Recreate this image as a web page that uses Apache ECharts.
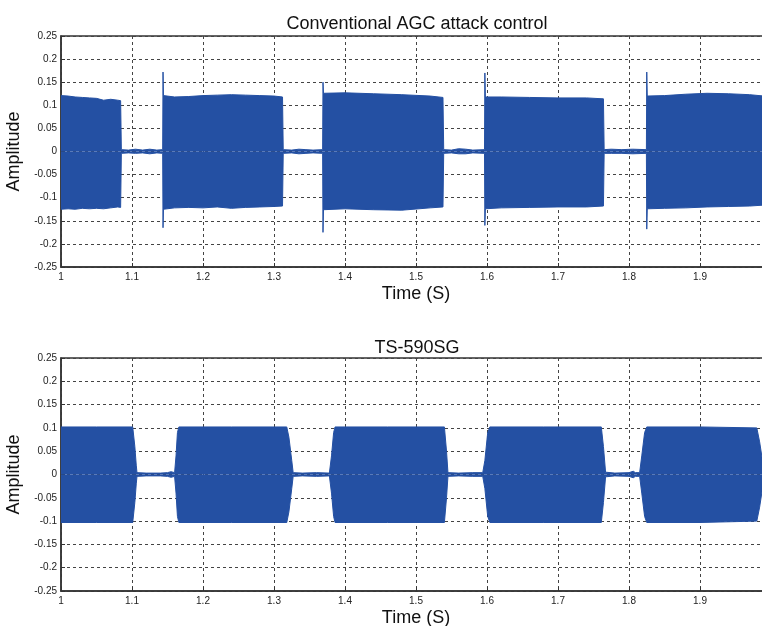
<!DOCTYPE html>
<html>
<head>
<meta charset="utf-8">
<script src="https://cdn.jsdelivr.net/npm/echarts@6/dist/echarts.min.js"></script>
<style>
html,body{margin:0;padding:0;background:#fff;}
#c{width:762px;height:626px;}
</style>
</head>
<body>
<div id="c"></div>
<script>
var titles = ["Conventional AGC attack control", "TS-590SG"];
var xTicks = [1, 1.1, 1.2, 1.3, 1.4, 1.5, 1.6, 1.7, 1.8, 1.9, 2];
var yTicks = [-0.25, -0.2, -0.15, -0.1, -0.05, 0, 0.05, 0.1, 0.15, 0.2, 0.25];

// Top: conventional AGC
var agcTime  = [1.000, 1.010, 1.020, 1.030, 1.040, 1.050, 1.060, 1.070, 1.080, 1.084, 1.085,
                1.095, 1.105, 1.115, 1.125, 1.135, 1.1432, 1.1437, 1.1443,
                1.160, 1.180, 1.200, 1.220, 1.240, 1.260, 1.280, 1.300, 1.312, 1.313,
                1.325, 1.335, 1.345, 1.355, 1.3685, 1.369, 1.3697,
                1.400, 1.440, 1.480, 1.520, 1.538, 1.539,
                1.550, 1.560, 1.570, 1.580, 1.5965, 1.597, 1.5977,
                1.620, 1.660, 1.700, 1.740, 1.764, 1.765,
                1.775, 1.790, 1.805, 1.8245, 1.825, 1.8257,
                1.850, 1.880, 1.910, 1.940, 1.970, 1.990];
var agcUpper = [0.121, 0.120, 0.118, 0.117, 0.116, 0.115, 0.111, 0.113, 0.111, 0.110, 0.004,
                0.003, 0.005, 0.003, 0.005, 0.003, 0.004, 0.172, 0.121,
                0.118, 0.119, 0.121, 0.122, 0.123, 0.122, 0.121, 0.120, 0.118, 0.004,
                0.003, 0.005, 0.004, 0.003, 0.004, 0.150, 0.126,
                0.127, 0.125, 0.123, 0.120, 0.117, 0.004,
                0.003, 0.006, 0.005, 0.003, 0.004, 0.170, 0.118,
                0.118, 0.117, 0.116, 0.116, 0.114, 0.004,
                0.005, 0.004, 0.005, 0.004, 0.172, 0.120,
                0.121, 0.124, 0.126, 0.125, 0.123, 0.120];
var agcLower = [-0.125, -0.124, -0.125, -0.123, -0.124, -0.123, -0.124, -0.122, -0.120, -0.121, -0.004,
                -0.003, -0.004, -0.003, -0.005, -0.003, -0.004, -0.165, -0.125,
                -0.122, -0.121, -0.122, -0.120, -0.123, -0.121, -0.120, -0.119, -0.118, -0.004,
                -0.003, -0.005, -0.004, -0.003, -0.004, -0.175, -0.126,
                -0.124, -0.126, -0.127, -0.122, -0.120, -0.004,
                -0.003, -0.005, -0.005, -0.003, -0.004, -0.160, -0.124,
                -0.122, -0.121, -0.120, -0.120, -0.118, -0.004,
                -0.004, -0.004, -0.005, -0.004, -0.168, -0.124,
                -0.123, -0.122, -0.120, -0.119, -0.118, -0.116];

// Bottom: TS-590SG
var tsTime  = [1.000, 1.050, 1.101, 1.104, 1.106, 1.107,
               1.120, 1.140, 1.150, 1.152, 1.155, 1.157, 1.160,
               1.162, 1.164, 1.166, 1.240, 1.318, 1.321, 1.325, 1.327,
               1.340, 1.360, 1.378, 1.381, 1.384, 1.386, 1.460, 1.540, 1.543, 1.545,
               1.560, 1.580, 1.594, 1.597, 1.601, 1.604, 1.680, 1.761, 1.764, 1.767,
               1.780, 1.800, 1.806, 1.809, 1.815, 1.818, 1.822, 1.825, 1.900, 1.980, 1.984, 1.988];
var tsUpper = [0.102, 0.102, 0.102, 0.060, 0.020, 0.004,
               0.003, 0.003, 0.004, 0.007, 0.006, 0.003, 0.004,
               0.040, 0.090, 0.102, 0.102, 0.102, 0.080, 0.030, 0.004,
               0.003, 0.004, 0.003, 0.040, 0.090, 0.102, 0.102, 0.102, 0.050, 0.004,
               0.003, 0.004, 0.004, 0.030, 0.090, 0.102, 0.102, 0.102, 0.060, 0.005,
               0.003, 0.004, 0.007, 0.004, 0.004, 0.040, 0.090, 0.102, 0.102, 0.100, 0.070, 0.030];
var tsLower = [-0.103, -0.103, -0.103, -0.060, -0.020, -0.004,
               -0.003, -0.003, -0.004, -0.007, -0.006, -0.003, -0.004,
               -0.040, -0.090, -0.103, -0.103, -0.103, -0.080, -0.030, -0.004,
               -0.003, -0.004, -0.003, -0.040, -0.090, -0.103, -0.103, -0.103, -0.050, -0.004,
               -0.003, -0.004, -0.004, -0.030, -0.090, -0.103, -0.103, -0.103, -0.060, -0.005,
               -0.003, -0.004, -0.007, -0.004, -0.004, -0.040, -0.090, -0.103, -0.103, -0.100, -0.070, -0.030];

// ---- Chart ----
var BLUE = '#2450a3';
var FONT = '"Liberation Sans", Arial, Helvetica, sans-serif';

function pairs(t, v) { return t.map(function (x, i) { return [x, v[i]]; }); }

function envSeries(idx, t, v) {
  return {
    type: 'line', xAxisIndex: idx, yAxisIndex: idx,
    data: pairs(t, v), showSymbol: false, symbol: 'none', silent: true,
    lineStyle: { color: BLUE, width: 1 },
    areaStyle: { color: BLUE, opacity: 1 },
    itemStyle: { color: BLUE }, z: 2
  };
}

function xAxis(idx) {
  return {
    type: 'value', gridIndex: idx, min: xTicks[0], max: xTicks[xTicks.length - 1], interval: 0.1,
    name: 'Time (S)', nameLocation: 'middle', nameGap: 18,
    nameTextStyle: { fontFamily: FONT, fontSize: 18, color: '#111' },
    axisLine: { show: true, onZero: false, lineStyle: { color: '#333', width: 1.5 } },
    axisTick: { show: true, inside: true, length: 4, lineStyle: { color: '#333' } },
    axisLabel: { fontFamily: FONT, fontSize: 10, color: '#222', margin: 5 },
    splitLine: { show: true, lineStyle: { color: '#444', type: [3, 3], width: 1 } }
  };
}
function yAxis(idx) {
  return {
    type: 'value', gridIndex: idx, min: yTicks[0], max: yTicks[yTicks.length - 1], interval: 0.05,
    name: 'Amplitude', nameLocation: 'middle', nameGap: 32, nameRotate: 90,
    nameTextStyle: { fontFamily: FONT, fontSize: 18, color: '#111' },
    axisLine: { show: true, onZero: false, lineStyle: { color: '#333', width: 1.5 } },
    axisTick: { show: true, inside: true, length: 4, lineStyle: { color: '#333' } },
    axisLabel: { fontFamily: FONT, fontSize: 10, color: '#222', margin: 4 },
    splitLine: { show: true, lineStyle: { color: '#444', type: [3, 3], width: 1 } }
  };
}

var chart = echarts.init(document.getElementById('c'), null, { renderer: 'canvas' });
chart.setOption({
  animation: false,
  backgroundColor: '#fff',
  title: [
    { text: titles[0], left: 412, top: 10, textAlign: 'center',
      textStyle: { fontFamily: FONT, fontSize: 18, fontWeight: 'normal', color: '#111' } },
    { text: titles[1], left: 412, top: 334, textAlign: 'center',
      textStyle: { fontFamily: FONT, fontSize: 18, fontWeight: 'normal', color: '#111' } }
  ],
  grid: [
    { left: 61, top: 36, width: 710, height: 231, show: true, borderColor: '#333', borderWidth: 1.5,
      backgroundColor: '#fff', containLabel: false, outerBoundsMode: 'none' },
    { left: 61, top: 358, width: 710, height: 233, show: true, borderColor: '#333', borderWidth: 1.5,
      backgroundColor: '#fff', containLabel: false, outerBoundsMode: 'none' }
  ],
  xAxis: [xAxis(0), xAxis(1)],
  yAxis: [yAxis(0), yAxis(1)],
  series: [
    envSeries(0, agcTime, agcUpper), envSeries(0, agcTime, agcLower),
    envSeries(1, tsTime, tsUpper), envSeries(1, tsTime, tsLower)
  ]
});
</script>
</body>
</html>
